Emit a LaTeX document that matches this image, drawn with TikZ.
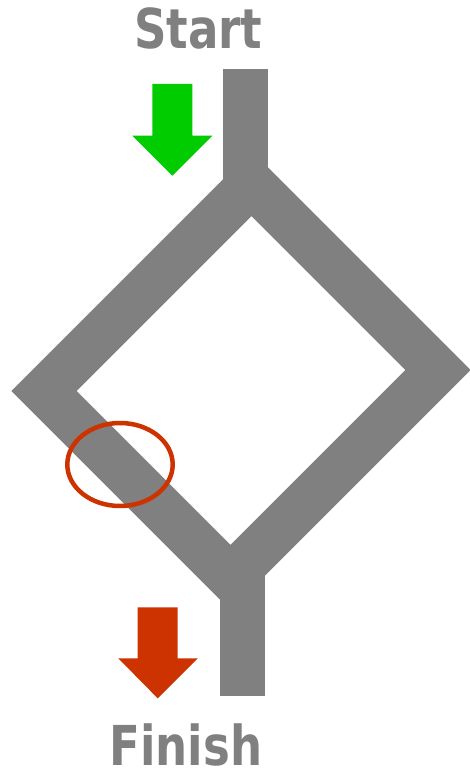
\documentclass[tikz,border=0pt]{standalone}
\usepackage{fontspec}
\setsansfont{DejaVu Sans}
\usepackage{tikz}

\definecolor{pipegray}{HTML}{808080}
\definecolor{gogreen}{HTML}{00CC00}
\definecolor{stopred}{HTML}{CC3300}

\begin{document}
\begin{tikzpicture}[
  x=1pt,y=-1pt,
  pipe/.style={draw=pipegray,line width=46pt,line join=miter},
  stem/.style={draw=pipegray,line width=45pt,line cap=butt},
  fatarrow/.style={fill=#1,draw=none},
  title/.style={anchor=base,text=pipegray,font=\sffamily\bfseries\fontsize{55}{55}\selectfont,inner sep=0pt}]
  \useasboundingbox (0,0) rectangle (469,770);
  % diamond corners
  \coordinate (top) at (251.5,183.5);
  \coordinate (right) at (438,370);
  \coordinate (bottom) at (230.5,577.5);
  \coordinate (left) at (44,391);
  \coordinate (instart) at (245.5,69);
  \coordinate (outfinish) at (242.5,696);
  \draw[pipe] (top)--(right)--(bottom)--(left)--cycle;
  \draw[stem] (instart)--(245.5,200);
  \draw[stem] (outfinish)--(242.5,570);
  % arrows
  \fill[fatarrow=gogreen] (152.3,84)--(192.3,84)--(192.3,135.7)--(212.3,135.7)
    --(172.3,175.7)--(132.3,135.7)--(152.3,135.7)--cycle;
  \fill[fatarrow=stopred] (137.7,607.3)--(177.7,607.3)--(177.7,658.3)--(197.7,658.3)
    --(157.7,698.3)--(118.3,658.3)--(137.7,658.3)--cycle;
  \draw[stopred,line width=4.5pt] (120,464.5) ellipse [x radius=52.7,y radius=41.5];
  \node[title] (start) at (198.3,48.3) {\scalebox{0.82}[1]{Start}};
  \node[title] (finish) at (185.8,765) {\scalebox{0.82}[1]{Finish}};
\end{tikzpicture}
\end{document}
